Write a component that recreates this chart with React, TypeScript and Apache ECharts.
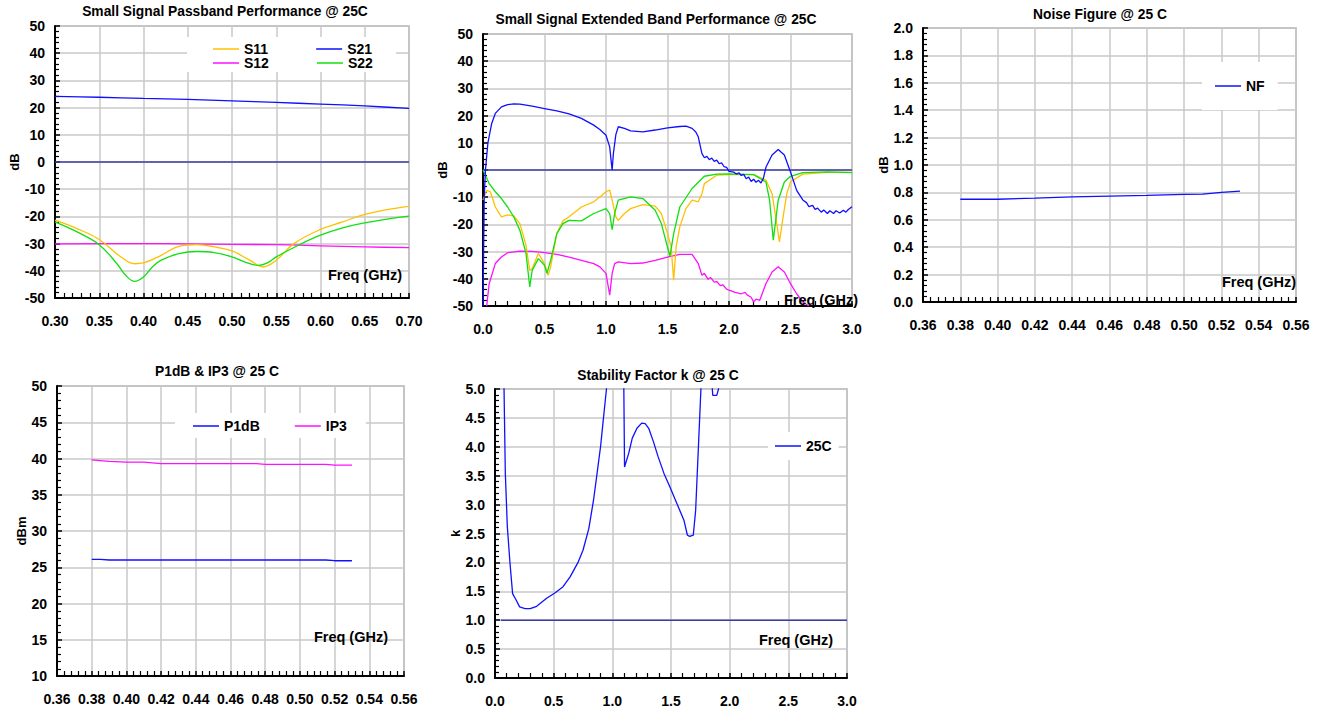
import React, { useEffect, useRef } from "react";
import * as echarts from "echarts";

const FONT = "'Liberation Sans', Arial, Helvetica, sans-serif";

// ---------- Chart 1: Small Signal Passband ----------
const pbS11Freq = [0.30, 0.325, 0.35, 0.375, 0.39, 0.40, 0.42, 0.44, 0.46, 0.48, 0.50, 0.52, 0.535, 0.55, 0.57, 0.60, 0.625, 0.65, 0.675, 0.70];
const pbS11Db = [-21.4, -24.5, -28.5, -35, -37.4, -37.1, -34.3, -31, -30.4, -31.2, -32.7, -36.1, -38.6, -36.1, -30, -24.8, -22, -19.3, -17.5, -16.3];
const pbS21Freq = [0.30, 0.35, 0.40, 0.45, 0.50, 0.55, 0.60, 0.65, 0.70];
const pbS21Db = [24.1, 23.8, 23.4, 23.0, 22.5, 21.9, 21.3, 20.6, 19.7];
const pbS12Freq = [0.30, 0.40, 0.45, 0.50, 0.55, 0.60, 0.65, 0.70];
const pbS12Db = [-30.1, -30.0, -30.1, -30.3, -30.4, -30.8, -31.2, -31.5];
const pbS22Freq = [0.30, 0.325, 0.35, 0.37, 0.38, 0.39, 0.40, 0.41, 0.42, 0.44, 0.46, 0.48, 0.50, 0.52, 0.53, 0.54, 0.55, 0.575, 0.60, 0.625, 0.65, 0.675, 0.70];
const pbS22Db = [-22, -25.7, -30.4, -37.4, -41.7, -43.9, -42.3, -38.6, -36.1, -33.7, -32.9, -33.3, -34.9, -37.4, -38, -37.1, -34.9, -30.6, -26.9, -24.2, -22.4, -21, -19.9];
const pbRefFreq = [0.30, 0.70];
const pbRefDb = [0, 0];

// ---------- Chart 2: Extended Band ----------
const ebS21Freq = [0, 0.01, 0.02, 0.04, 0.07, 0.1, 0.15, 0.2, 0.25, 0.3, 0.4, 0.5, 0.6, 0.7, 0.8, 0.9, 0.95, 1.0, 1.03, 1.045, 1.05, 1.06, 1.08, 1.1, 1.15, 1.2, 1.3, 1.4, 1.5, 1.6, 1.65, 1.7, 1.73, 1.75, 1.78, 1.80, 1.82, 1.84, 1.86, 1.88, 1.90, 1.92, 1.94, 1.96, 1.98, 2.00, 2.04, 2.06, 2.08, 2.10, 2.12, 2.14, 2.16, 2.18, 2.20, 2.22, 2.24, 2.26, 2.28, 2.30, 2.35, 2.40, 2.45, 2.50, 2.55, 2.60, 2.63, 2.65, 2.68, 2.70, 2.72, 2.75, 2.77, 2.80, 2.82, 2.85, 2.87, 2.90, 2.93, 2.95, 2.97, 3.00];
const ebS21Db = [-50, -10, 0, 10, 17, 20.8, 23.2, 24.0, 24.3, 24.2, 23.5, 22.6, 21.7, 20.6, 19.0, 16.5, 14.9, 12.8, 8.5, 2, 0, 6, 13, 15.9, 15.3, 14.4, 14.0, 14.7, 15.5, 16.0, 16.1, 15.3, 14.0, 12.2, 6.0, 4.5, 5.0, 3.8, 4.4, 3.2, 3.6, 2.3, 2.6, 1.2, 1.0, -0.5, -0.8, -1.5, -1.0, -2.0, -1.6, -3.2, -2.6, -4.2, -3.4, -4.5, -3.8, -4.8, -3.0, 1.0, 5.5, 7.5, 5.5, -0.7, -7.5, -11.0, -12.0, -13.5, -13.0, -14.5, -14.0, -15.5, -14.7, -16.0, -15.0, -16.0, -15.0, -15.8, -14.8, -15.5, -14.5, -13.5];
const ebS11Freq = [0, 0.03, 0.06, 0.1, 0.15, 0.2, 0.25, 0.3, 0.35, 0.38, 0.4, 0.45, 0.5, 0.53, 0.55, 0.6, 0.65, 0.7, 0.8, 0.9, 0.95, 1.0, 1.03, 1.05, 1.08, 1.1, 1.15, 1.2, 1.3, 1.4, 1.45, 1.5, 1.53, 1.55, 1.57, 1.6, 1.65, 1.7, 1.75, 1.78, 1.8, 1.9, 2.0, 2.2, 2.3, 2.35, 2.38, 2.41, 2.44, 2.47, 2.5, 2.6, 2.8, 3.0];
const ebS11Db = [-11, -7.5, -8, -13.6, -17.2, -16.5, -16.9, -19.7, -27.7, -36.9, -36.2, -30.7, -34.4, -38.7, -35.6, -23.4, -18.7, -17.2, -13.6, -11.7, -9.9, -8, -7.4, -11.1, -17.2, -18.5, -16, -14.2, -12.7, -13.3, -16, -23.4, -28.3, -40.5, -28.3, -20.9, -14.2, -11.1, -11.7, -8.7, -5, -1.9, -1.7, -1.7, -3.7, -8.7, -17.2, -26.4, -17.2, -8.7, -4.4, -1.5, -0.9, -0.9];
const ebS22Freq = [0, 0.05, 0.1, 0.15, 0.2, 0.25, 0.3, 0.35, 0.38, 0.4, 0.45, 0.5, 0.52, 0.55, 0.6, 0.65, 0.7, 0.8, 0.9, 1.0, 1.03, 1.05, 1.07, 1.1, 1.2, 1.3, 1.4, 1.45, 1.5, 1.52, 1.55, 1.6, 1.7, 1.8, 1.9, 2.0, 2.2, 2.3, 2.33, 2.36, 2.38, 2.4, 2.45, 2.5, 2.6, 2.8, 3.0];
const ebS22Db = [0, -5, -8, -10.5, -13.6, -17.2, -22.2, -30.7, -43, -36.9, -32.6, -35, -38, -33.2, -23.4, -19.7, -18.5, -18.7, -16, -14.2, -16, -21.9, -16, -11.1, -9.9, -10.5, -14.8, -19.7, -28.3, -31.7, -23.4, -13.6, -6.8, -2.3, -1.5, -1.4, -1.7, -4.4, -11.1, -25.8, -18.5, -11.1, -4.4, -2.3, -1, -0.7, -1];
const ebS12Freq = [0.03, 0.05, 0.1, 0.15, 0.2, 0.3, 0.4, 0.5, 0.6, 0.7, 0.8, 0.9, 0.95, 1.0, 1.03, 1.05, 1.07, 1.1, 1.2, 1.3, 1.4, 1.5, 1.6, 1.7, 1.75, 1.78, 1.80, 1.83, 1.85, 1.88, 1.90, 1.93, 1.95, 1.98, 2.0, 2.05, 2.1, 2.13, 2.15, 2.18, 2.2, 2.22, 2.25, 2.3, 2.35, 2.4, 2.45, 2.5, 2.55, 2.6, 2.65];
const ebS12Db = [-50, -41.8, -34.4, -32, -30.4, -29.8, -29.9, -30.4, -31, -32, -33.2, -34.4, -35.6, -38, -46, -38, -34.4, -33.8, -34.4, -34.2, -33.2, -32, -31, -31, -34.4, -38.7, -38.0, -40.2, -39.5, -41.2, -41.0, -42.5, -42.2, -43.8, -44.2, -45.0, -45.5, -45.0, -46.0, -46.8, -48.5, -47.5, -47.9, -41.8, -37.5, -35.6, -37.5, -41.8, -45.5, -48.5, -50];
const ebRefFreq = [0, 3];
const ebRefDb = [0, 0];

// ---------- Chart 3: Noise Figure ----------
const nfFreq = [0.38, 0.40, 0.42, 0.44, 0.46, 0.48, 0.50, 0.51, 0.52, 0.53];
const nfDb = [0.75, 0.75, 0.758, 0.767, 0.773, 0.778, 0.786, 0.788, 0.80, 0.81];

// ---------- Chart 4: P1dB & IP3 ----------
const p1Freq = [0.38, 0.385, 0.39, 0.40, 0.42, 0.46, 0.50, 0.515, 0.52, 0.53];
const p1Dbm = [26.1, 26.1, 26.0, 26.0, 26.0, 26.0, 26.0, 26.0, 25.9, 25.9];
const ip3Freq = [0.38, 0.39, 0.40, 0.41, 0.42, 0.46, 0.475, 0.48, 0.50, 0.515, 0.52, 0.53];
const ip3Dbm = [39.8, 39.6, 39.5, 39.5, 39.3, 39.3, 39.3, 39.2, 39.2, 39.2, 39.1, 39.1];

// ---------- Chart 5: Stability factor ----------
const kFreq = [0.074, 0.077, 0.088, 0.105, 0.128, 0.15, 0.18, 0.21, 0.256, 0.3, 0.355, 0.44, 0.51, 0.58, 0.64, 0.71, 0.75, 0.8, 0.84, 0.87, 0.9, 0.92, 0.95, 0.97, 1.09, 1.098, 1.104, 1.14, 1.17, 1.21, 1.25, 1.28, 1.31, 1.35, 1.39, 1.44, 1.49, 1.55, 1.61, 1.64, 1.66, 1.69, 1.71, 1.735, 1.755, 1.77, 1.84, 1.852, 1.856, 1.89, 1.905, 1.92];
const kVal = [6.0, 5.0, 3.54, 2.62, 1.98, 1.46, 1.35, 1.23, 1.2, 1.2, 1.24, 1.38, 1.47, 1.58, 1.75, 2.01, 2.21, 2.59, 3.08, 3.54, 4.01, 4.41, 5.0, 6.0, 6.0, 5.0, 3.65, 3.89, 4.15, 4.32, 4.41, 4.4, 4.32, 4.09, 3.83, 3.54, 3.31, 3.02, 2.73, 2.47, 2.45, 2.47, 2.9, 4.06, 5.0, 6.0, 6.0, 5.0, 4.89, 4.89, 5.0, 6.0];
const kRefFreq = [0.05, 3.0];
const kRefVal = [1, 1];

const C_S11 = "#ffc000";
const C_S21 = "#1010ff";
const C_S12 = "#ff10ff";
const C_S22 = "#10e010";
const C_REF = "#3c3ca8";

const zip = (xs: number[], ys: number[]) => xs.map((x, i) => [x, ys[i]]);

const lbl = { color: "#000", fontFamily: FONT, fontWeight: "bold" as const, fontSize: 14 };

function xAxis(gridIndex: number, min: number, max: number, interval: number, digits: number) {
  return {
    type: "value",
    gridIndex,
    min,
    max,
    interval,
    axisLine: { show: true, onZero: false, lineStyle: { color: "#000", width: 2 } },
    axisTick: { show: true, inside: true, length: 5, lineStyle: { color: "#000", width: 1.5 } },
    minorTick: { show: true, splitNumber: 5, length: 5, lineStyle: { color: "#000", width: 1.2 } },
    splitLine: { show: true, lineStyle: { color: "#c8c8c8", width: 1.5 } },
    axisLabel: { ...lbl, margin: 16, formatter: (v: number) => v.toFixed(digits) },
  };
}

function yAxis(gridIndex: number, min: number, max: number, interval: number, digits: number, name: string, gap: number) {
  return {
    type: "value",
    gridIndex,
    min,
    max,
    interval,
    name,
    nameLocation: "middle",
    nameGap: gap,
    nameRotate: 90,
    nameTextStyle: { ...lbl, fontSize: 13 },
    axisLine: { show: true, onZero: false, lineStyle: { color: "#000", width: 2 } },
    axisTick: { show: true, inside: true, length: 5, lineStyle: { color: "#000", width: 1.5 } },
    minorTick: { show: true, splitNumber: 5, length: 4, lineStyle: { color: "#000", width: 1.2 } },
    splitLine: { show: true, lineStyle: { color: "#c8c8c8", width: 1.5 } },
    axisLabel: { ...lbl, margin: 10, formatter: (v: number) => v.toFixed(digits) },
  };
}

function line(name: string, idx: number, data: number[][], color: string, extra: any = {}) {
  return {
    type: "line",
    name,
    xAxisIndex: idx,
    yAxisIndex: idx,
    data,
    symbol: "none",
    showSymbol: false,
    clip: true,
    lineStyle: { color, width: 1.3 },
    itemStyle: { color },
    ...extra,
  };
}

function legend(data: string[], left: number, top: number, gap: number, padding: number[]) {
  return {
    data,
    left,
    top,
    orient: "horizontal",
    icon: "rect",
    itemGap: gap,
    itemWidth: 26,
    itemHeight: 1.5,
    padding,
    backgroundColor: "#ffffff",
    textStyle: { ...lbl, fontSize: 14, lineHeight: 14 },
    selectedMode: false,
  };
}

function freqLabel(right: number, y: number) {
  return {
    type: "text",
    x: right,
    y,
    z: 100,
    style: { text: "Freq (GHz)", fill: "#000", font: `bold 14.5px ${FONT}`, textAlign: "right", textVerticalAlign: "middle" },
  };
}

function title(text: string, x: number, top: number) {
  return { text, left: x, top, textAlign: "center", textStyle: { ...lbl, fontSize: 13.8 }, padding: 0 };
}

export default function App() {
  const ref = useRef<HTMLDivElement>(null);
  useEffect(() => {
    document.body.style.margin = "0";
    const chart = echarts.init(ref.current!, null, { renderer: "svg" });
    const grid = (left: number, top: number, width: number, height: number) => ({
      left,
      top,
      width,
      height,
      show: true,
      borderColor: "#a8a8a8",
      borderWidth: 1.5,
      backgroundColor: "transparent",
    });
    chart.setOption({
      animation: false,
      backgroundColor: "#ffffff",
      title: [
        title("Small Signal Passband Performance @ 25C", 225, 4),
        title("Small Signal Extended Band Performance @ 25C", 656, 12),
        title("Noise Figure @ 25 C", 1100, 7),
        title("P1dB & IP3 @ 25 C", 217, 364),
        title("Stability Factor k @ 25 C", 658, 368),
      ],
      grid: [
        grid(55, 26, 354, 272),
        grid(483, 34, 369, 272),
        grid(923, 28, 373, 274),
        grid(57, 386, 347, 290),
        grid(495, 389, 352, 289),
      ],
      xAxis: [
        xAxis(0, 0.3, 0.7, 0.05, 2),
        xAxis(1, 0, 3, 0.5, 1),
        xAxis(2, 0.36, 0.56, 0.02, 2),
        xAxis(3, 0.36, 0.56, 0.02, 2),
        xAxis(4, 0, 3, 0.5, 1),
      ],
      yAxis: [
        yAxis(0, -50, 50, 10, 0, "dB", 32),
        yAxis(1, -50, 50, 10, 0, "dB", 32),
        yAxis(2, 0, 2, 0.2, 1, "dB", 32),
        yAxis(3, 10, 50, 5, 0, "dBm", 26),
        yAxis(4, 0, 5, 0.5, 1, "k", 32),
      ],
      legend: [
        legend(["S11", "S21"], 187, 37, 48, [5, 24, 2, 26]),
        legend(["S12", "S22"], 187, 56, 48, [0, 24, 2, 26]),
        legend(["NF"], 1202, 62, 10, [17, 13, 17, 13]),
        legend(["P1dB", "IP3"], 175, 413, 35, [6, 19, 5, 18]),
        legend(["25C"], 768, 432, 10, [7, 7, 7, 7]),
      ],
      graphic: [
        freqLabel(402, 275),
        freqLabel(858, 300),
        freqLabel(1296, 282),
        freqLabel(388, 637),
        freqLabel(833, 640),
      ],
      series: [
        line("ref0", 0, zip(pbRefFreq, pbRefDb), C_REF, { lineStyle: { color: C_REF, width: 1.5 } }),
        line("S12", 0, zip(pbS12Freq, pbS12Db), C_S12, { smooth: 0.3 }),
        line("S21", 0, zip(pbS21Freq, pbS21Db), C_S21, { smooth: 0.3 }),
        line("S11", 0, zip(pbS11Freq, pbS11Db), C_S11, { smooth: 0.4 }),
        line("S22", 0, zip(pbS22Freq, pbS22Db), C_S22, { smooth: 0.4 }),

        line("ref1", 1, zip(ebRefFreq, ebRefDb), C_REF, { lineStyle: { color: C_REF, width: 1.5 } }),
        line("S12 ext", 1, zip(ebS12Freq, ebS12Db), C_S12),
        line("S11 ext", 1, zip(ebS11Freq, ebS11Db), C_S11),
        line("S22 ext", 1, zip(ebS22Freq, ebS22Db), C_S22),
        line("S21 ext", 1, zip(ebS21Freq, ebS21Db), C_S21),

        line("NF", 2, zip(nfFreq, nfDb), C_S21),

        line("P1dB", 3, zip(p1Freq, p1Dbm), C_S21),
        line("IP3", 3, zip(ip3Freq, ip3Dbm), C_S12),

        line("ref4", 4, zip(kRefFreq, kRefVal), C_REF, { lineStyle: { color: C_REF, width: 1.5 } }),
        line("25C", 4, zip(kFreq, kVal), C_S21),
      ],
    });
    return () => chart.dispose();
  }, []);
  return <div ref={ref} style={{ width: 1323, height: 715 }} />;
}
